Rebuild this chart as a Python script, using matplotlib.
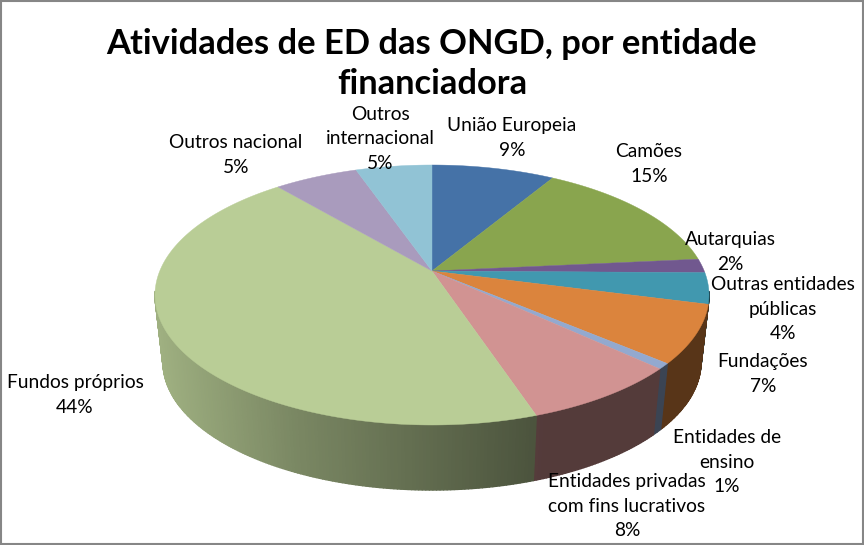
import numpy as np
import matplotlib
matplotlib.use("Agg")
import matplotlib.pyplot as plt
from matplotlib.collections import PolyCollection
from matplotlib.colors import to_rgb
from matplotlib.patches import Rectangle

plt.rcParams['font.family'] = ['Lato', 'DejaVu Sans']

# DATA (shares estimated from the slice edges, labels as printed)
categories = ["União Europeia", "Camões", "Autarquias", "Outras entidades\npúblicas", "Fundações",
              "Entidades de\nensino", "Entidades privadas\ncom fins lucrativos", "Fundos próprios",
              "Outros nacional", "Outros\ninternacional"]
shares = [8.7, 14.8, 1.7, 3.8, 7.1, 0.7, 8.0, 43.9, 5.9, 5.4]
pct_labels = ["9%", "15%", "2%", "4%", "7%", "1%", "8%", "44%", "5%", "5%"]
colours = ["#4572A7", "#89A54E", "#71588F", "#4198AF", "#DB843D",
           "#93A9CF", "#D19392", "#B9CD96", "#A99BBD", "#91C3D5"]
title = "Atividades de ED das ONGD, por entidade\nfinanciadora"

# label centres, in picture pixels
label_pos = [(512, 138), (649, 164), (730, 252), (783, 309), (763, 374),
             (727, 462), (627, 506), (75, 395), (236, 155), (380, 139)]

# the pie in picture pixels: top ellipse, bottom ellipse, slice apex
CX = 432
TOP_CY, TOP_RX, TOP_RY = 295, 277, 130
BOT_CY, BOT_RX, BOT_RY = 362, 269, 128
APEX_Y = 271


def circle_point(theta):
    # where the ray from the off-centre apex hits the unit circle (perspective look)
    a = (TOP_CY - APEX_Y) / TOP_RY
    s = -a * np.cos(theta) + np.sqrt((a * np.cos(theta)) ** 2 - a ** 2 + 1)
    return s * np.sin(theta), a + s * np.cos(theta)


def wall_factor(px):
    # light falls from the left, the wall gets darker going right
    return np.interp(px, [-1, -0.5, 0.4, 1], [0.86, 0.66, 0.40, 0.40])


fig = plt.figure(figsize=(8.64, 5.45), dpi=100)
ax = fig.add_axes([0, 0, 1, 1])
ax.set_xlim(0, 864)
ax.set_ylim(545, 0)
ax.axis("off")

edges = np.cumsum([0] + shares) / sum(shares) * 2 * np.pi

# side wall first
for start, end, col in zip(edges[:-1], edges[1:], colours):
    thetas = np.linspace(start, end, max(int((end - start) * 90), 2))
    px, py = circle_point(thetas)
    base = np.array(to_rgb(col))
    quads = []
    quad_cols = []
    for i in range(len(thetas) - 1):
        # only the front half of the pie shows a wall
        if py[i] > 0.02 and py[i + 1] > 0.02:
            continue
        quads.append([
            (CX + TOP_RX * px[i], TOP_CY - TOP_RY * py[i]),
            (CX + TOP_RX * px[i + 1], TOP_CY - TOP_RY * py[i + 1]),
            (CX + BOT_RX * px[i + 1], BOT_CY - BOT_RY * py[i + 1]),
            (CX + BOT_RX * px[i], BOT_CY - BOT_RY * py[i]),
        ])
        quad_cols.append(base * wall_factor((px[i] + px[i + 1]) / 2))
    if quads:
        # thick same-colour edges close the seams between the strips
        ax.add_collection(PolyCollection(quads, facecolors=quad_cols, edgecolors="face", linewidths=1.0))

# top face
for start, end, col in zip(edges[:-1], edges[1:], colours):
    thetas = np.linspace(start, end, max(int((end - start) * 90), 2))
    px, py = circle_point(thetas)
    xs = np.r_[CX, CX + TOP_RX * px]
    ys = np.r_[APEX_Y, TOP_CY - TOP_RY * py]
    ax.fill(xs, ys, facecolor=col, edgecolor=col, linewidth=0.3)

# labels
for name, pct, (lx, ly) in zip(categories, pct_labels, label_pos):
    ax.text(lx, ly, f"{name}\n{pct}", ha="center", va="center", fontsize=13.8, color="black", linespacing=1.52)

ax.text(432, 64, title, ha="center", va="center", fontsize=24.8, fontweight="bold", color="black", linespacing=1.32)

# chart border
ax.add_patch(Rectangle((1, 1), 862, 543, fill=False, edgecolor="#868686", linewidth=1.5))

fig.savefig("out.png", dpi=100)
